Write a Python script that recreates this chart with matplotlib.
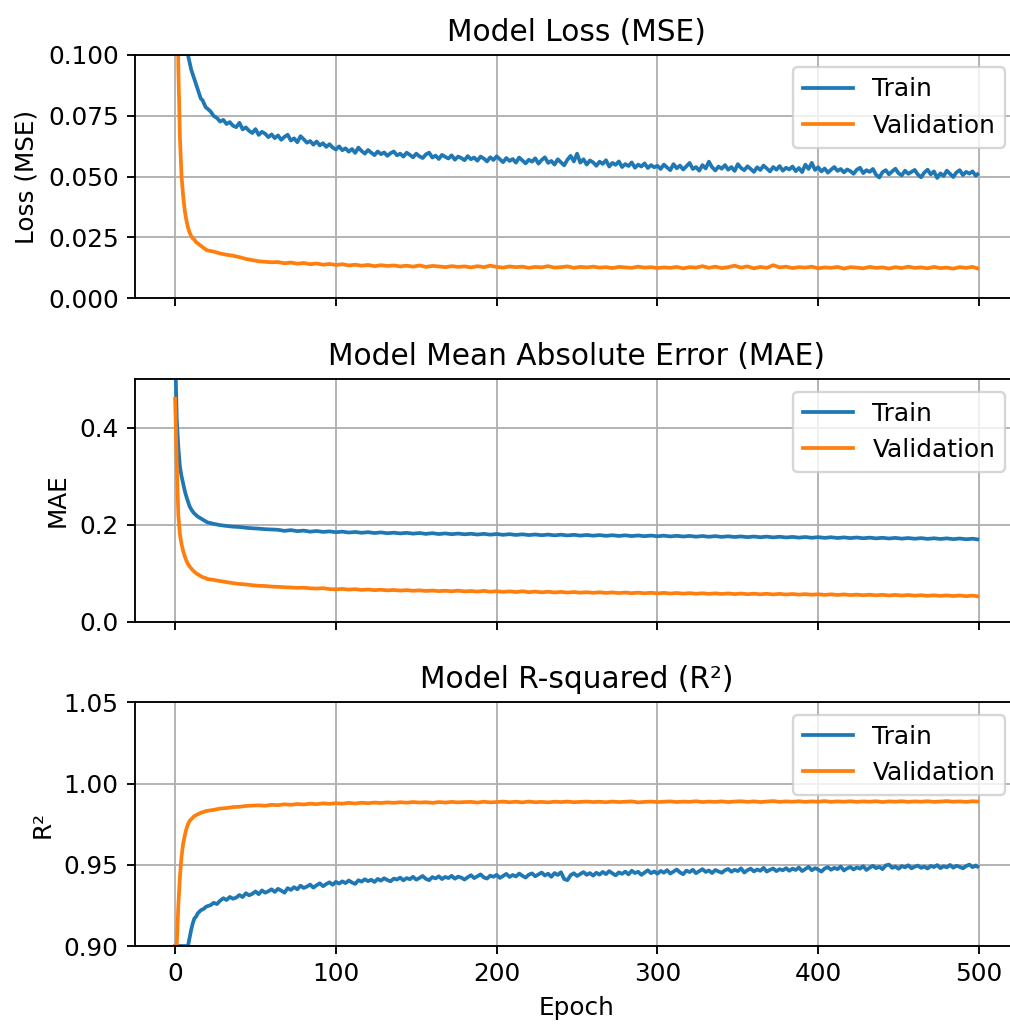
import matplotlib
matplotlib.use("Agg")
import matplotlib.pyplot as plt

# ---------------- data ----------------
# epochs sampled for most series
epochs = list(range(0, 21)) + list(range(24, 497, 4)) + [499]
# finer sampling for the noisier training curves
epochs_fine = list(range(0, 21)) + list(range(22, 499, 2)) + [499]

loss_train = [0.62, 0.35, 0.24, 0.18, 0.145, 0.125, 0.112, 0.105, 0.100, 0.097, 0.094, 0.092, 0.090, 0.088, 0.086, 0.084, 0.082, 0.0815, 0.080, 0.0785, 0.078,
    0.0768, 0.0749, 0.0741, 0.0726, 0.0733, 0.0716, 0.0724, 0.0709, 0.0703, 0.0721, 0.0694, 0.0702, 0.0688, 0.0679, 0.0695, 0.0671, 0.0684, 0.0676, 0.0662, 0.0673,
    0.0658, 0.0669, 0.0651, 0.0663, 0.0672, 0.0648, 0.0657, 0.0641, 0.0666, 0.0653, 0.0639, 0.0646, 0.0631, 0.0644, 0.0628, 0.0637, 0.0622, 0.0633, 0.0619, 0.0611,
    0.0624, 0.0608, 0.0616, 0.0602, 0.0613, 0.0597, 0.0619, 0.0605, 0.0594, 0.0609, 0.0598, 0.0588, 0.0603, 0.0592, 0.0599, 0.0585, 0.0596, 0.0603, 0.0587, 0.0594,
    0.0582, 0.0598, 0.0589, 0.0579, 0.0594, 0.0583, 0.0576, 0.0591, 0.0598, 0.0578, 0.0586, 0.0572, 0.0589, 0.0581, 0.0574, 0.0587, 0.0569, 0.0582, 0.0576, 0.0567,
    0.0584, 0.0571, 0.0578, 0.0565, 0.0582, 0.0574, 0.0562, 0.0579, 0.0568, 0.0583, 0.0571, 0.0559, 0.0576, 0.0564, 0.0572, 0.0557, 0.0578, 0.0566, 0.0554, 0.0569,
    0.0561, 0.0575, 0.0553, 0.0568, 0.0579, 0.0556, 0.0564, 0.0549, 0.0571, 0.0558, 0.0546, 0.0569, 0.0585, 0.0562, 0.0594, 0.0557, 0.0571, 0.0549, 0.0566, 0.0558,
    0.0544, 0.0561, 0.0552, 0.0567, 0.0541, 0.0556, 0.0548, 0.0562, 0.0539, 0.0551, 0.0543, 0.0558, 0.0536, 0.0549, 0.0541, 0.0554, 0.0535, 0.0547, 0.0538, 0.0544,
    0.0531, 0.0549, 0.0537, 0.0526, 0.0551, 0.0534, 0.0545, 0.0529, 0.0542, 0.0556, 0.0531, 0.0539, 0.0524, 0.0547, 0.0533, 0.0561, 0.0538, 0.0525, 0.0541, 0.0532,
    0.0547, 0.0528, 0.0539, 0.0523, 0.0551, 0.0535, 0.0526, 0.0542, 0.0531, 0.0519, 0.0538, 0.0527, 0.0545, 0.0533, 0.0521, 0.0539, 0.0528, 0.0543, 0.0524, 0.0536,
    0.0529, 0.0541, 0.0522, 0.0535, 0.0518, 0.0549, 0.0531, 0.0556, 0.0527, 0.0538, 0.0521, 0.0533, 0.0516, 0.0528, 0.0539, 0.0523, 0.0531, 0.0517, 0.0529, 0.0522,
    0.0511, 0.0528, 0.0536, 0.0514, 0.0526, 0.0519, 0.0531, 0.0507, 0.0496, 0.0518, 0.0526, 0.0509, 0.0521, 0.0532, 0.0513, 0.0505, 0.0524, 0.0511, 0.0519, 0.0527,
    0.0508, 0.0497, 0.0516, 0.0528, 0.0509, 0.0521, 0.0494, 0.0513, 0.0502, 0.0524, 0.0511, 0.0498, 0.0517, 0.0526, 0.0506, 0.0519, 0.0512, 0.0521, 0.0503, 0.0509]

loss_val = [0.30, 0.16, 0.095, 0.066, 0.050, 0.042, 0.036, 0.032, 0.029, 0.027, 0.0255, 0.0245, 0.024, 0.023, 0.0225, 0.022, 0.0215, 0.021, 0.0205, 0.0200, 0.0196,
    0.0191, 0.0183, 0.0178, 0.0174, 0.0168, 0.0161, 0.0156, 0.0151, 0.0149, 0.0147,
    0.0148, 0.0143, 0.0146, 0.0141, 0.0144, 0.0139, 0.0142, 0.0137, 0.0140, 0.0136,
    0.0139, 0.0134, 0.0137, 0.0133, 0.0136, 0.0131, 0.0135, 0.0132, 0.0134, 0.0130,
    0.0133, 0.0129, 0.0134, 0.0128, 0.0132, 0.0130, 0.0127, 0.0131, 0.0128, 0.0130,
    0.0126, 0.0131, 0.0127, 0.0133, 0.0128, 0.0125, 0.0130, 0.0127, 0.0129, 0.0124,
    0.0128, 0.0126, 0.0131, 0.0125, 0.0127, 0.0130, 0.0124, 0.0128, 0.0126, 0.0129,
    0.0125, 0.0127, 0.0123, 0.0128, 0.0126, 0.0124, 0.0129, 0.0125, 0.0127, 0.0123,
    0.0126, 0.0124, 0.0128, 0.0122, 0.0127, 0.0125, 0.0131, 0.0124, 0.0129, 0.0123,
    0.0127, 0.0133, 0.0125, 0.0130, 0.0122, 0.0128, 0.0124, 0.0135, 0.0126, 0.0129,
    0.0123, 0.0127, 0.0125, 0.0129, 0.0122, 0.0126, 0.0124, 0.0128, 0.0121, 0.0127,
    0.0125, 0.0122, 0.0128, 0.0124, 0.0126, 0.0121, 0.0127, 0.0123, 0.0129, 0.0124,
    0.0126, 0.0122, 0.0128, 0.0123, 0.0125, 0.0121, 0.0127, 0.0124, 0.0128, 0.0122]

mae_train = [0.56, 0.42, 0.36, 0.32, 0.30, 0.285, 0.27, 0.258, 0.248, 0.238, 0.232, 0.227, 0.223, 0.220, 0.217, 0.215, 0.213, 0.211, 0.209, 0.207, 0.205,
    0.2018, 0.1992, 0.1975, 0.1961, 0.1953, 0.1938, 0.1927, 0.1919, 0.1908, 0.1901,
    0.1896, 0.1874, 0.1889, 0.1868, 0.1879, 0.1857, 0.1871, 0.1852, 0.1863, 0.1846,
    0.1858, 0.1839, 0.1851, 0.1834, 0.1847, 0.1829, 0.1842, 0.1825, 0.1836, 0.1821,
    0.1833, 0.1816, 0.1829, 0.1811, 0.1826, 0.1808, 0.1821, 0.1805, 0.1818, 0.1803,
    0.1814, 0.1798, 0.1812, 0.1795, 0.1809, 0.1792, 0.1806, 0.1789, 0.1803, 0.1787,
    0.1799, 0.1784, 0.1797, 0.1781, 0.1795, 0.1779, 0.1792, 0.1776, 0.1789, 0.1774,
    0.1787, 0.1771, 0.1784, 0.1769, 0.1782, 0.1766, 0.1779, 0.1764, 0.1777, 0.1762,
    0.1775, 0.1759, 0.1772, 0.1757, 0.1769, 0.1754, 0.1767, 0.1752, 0.1765, 0.1749,
    0.1762, 0.1747, 0.1759, 0.1744, 0.1757, 0.1742, 0.1755, 0.1739, 0.1752, 0.1737,
    0.1749, 0.1734, 0.1747, 0.1731, 0.1744, 0.1729, 0.1742, 0.1726, 0.1739, 0.1724,
    0.1737, 0.1721, 0.1734, 0.1719, 0.1731, 0.1716, 0.1729, 0.1713, 0.1726, 0.1711,
    0.1724, 0.1708, 0.1721, 0.1706, 0.1719, 0.1703, 0.1716, 0.1701, 0.1712, 0.1698]

mae_val = [0.46, 0.33, 0.22, 0.18, 0.16, 0.146, 0.135, 0.126, 0.119, 0.114, 0.110, 0.106, 0.103, 0.100, 0.098, 0.096, 0.094, 0.092, 0.091, 0.090, 0.088,
    0.0862, 0.0838, 0.0817, 0.0795, 0.0779, 0.0768, 0.0752, 0.0741, 0.0736, 0.0724,
    0.0719, 0.0711, 0.0706, 0.0698, 0.0702, 0.0689, 0.0684, 0.0691, 0.0673, 0.0668,
    0.0676, 0.0662, 0.0671, 0.0655, 0.0664, 0.0651, 0.0659, 0.0646, 0.0654, 0.0642,
    0.0651, 0.0638, 0.0647, 0.0634, 0.0643, 0.0631, 0.0639, 0.0627, 0.0641, 0.0625,
    0.0633, 0.0621, 0.0637, 0.0618, 0.0629, 0.0615, 0.0626, 0.0612, 0.0628, 0.0609,
    0.0621, 0.0606, 0.0618, 0.0603, 0.0615, 0.0601, 0.0612, 0.0598, 0.0609, 0.0596,
    0.0607, 0.0593, 0.0604, 0.0591, 0.0602, 0.0588, 0.0599, 0.0586, 0.0597, 0.0584,
    0.0595, 0.0581, 0.0592, 0.0579, 0.0589, 0.0577, 0.0587, 0.0574, 0.0585, 0.0572,
    0.0583, 0.0569, 0.0581, 0.0567, 0.0578, 0.0565, 0.0576, 0.0562, 0.0574, 0.0561,
    0.0571, 0.0558, 0.0569, 0.0556, 0.0567, 0.0553, 0.0565, 0.0551, 0.0563, 0.0549,
    0.0559, 0.0546, 0.0557, 0.0544, 0.0555, 0.0541, 0.0553, 0.0539, 0.0551, 0.0537,
    0.0547, 0.0534, 0.0545, 0.0532, 0.0543, 0.0529, 0.0541, 0.0527, 0.0538, 0.0525]

r2_train = [0.90, 0.90, 0.90, 0.90, 0.90, 0.90, 0.90, 0.90, 0.90, 0.905, 0.910, 0.914, 0.917, 0.918, 0.920, 0.921, 0.922, 0.9225, 0.923, 0.924, 0.9245,
    0.9251, 0.9266, 0.9258, 0.9279, 0.9294, 0.9283, 0.9302, 0.9291, 0.9298, 0.9314, 0.9301, 0.9325, 0.9312, 0.9321, 0.9336, 0.9319, 0.9342, 0.9328, 0.9337, 0.9349,
    0.9333, 0.9352, 0.9341, 0.9328, 0.9356, 0.9345, 0.9362, 0.9349, 0.9371, 0.9357, 0.9366, 0.9378, 0.9359, 0.9374, 0.9386, 0.9368, 0.9381, 0.9392, 0.9377, 0.9395,
    0.9384, 0.9398, 0.9387, 0.9403, 0.9391, 0.9382, 0.9405, 0.9396, 0.9411, 0.9399, 0.9408, 0.9394, 0.9413, 0.9402, 0.9417, 0.9406, 0.9398, 0.9415, 0.9409, 0.9421,
    0.9404, 0.9418, 0.9411, 0.9426, 0.9408, 0.9419, 0.9431, 0.9413, 0.9405, 0.9424, 0.9416, 0.9429, 0.9412, 0.9425, 0.9418, 0.9432, 0.9414, 0.9427, 0.9421, 0.9409,
    0.9423, 0.9436, 0.9418, 0.9429, 0.9441, 0.9422, 0.9415, 0.9433, 0.9426, 0.9438, 0.9419, 0.9431, 0.9444, 0.9425, 0.9437, 0.9428, 0.9446, 0.9432, 0.9421, 0.9439,
    0.9447, 0.9429, 0.9441, 0.9452, 0.9434, 0.9445, 0.9426, 0.9449, 0.9437, 0.9454, 0.9412, 0.9405, 0.9436, 0.9448, 0.9431, 0.9443, 0.9455, 0.9438, 0.9449, 0.9433,
    0.9451, 0.9439, 0.9456, 0.9442, 0.9461, 0.9447, 0.9435, 0.9453, 0.9444, 0.9458, 0.9441, 0.9463, 0.9449, 0.9457, 0.9438, 0.9452, 0.9466, 0.9448, 0.9459, 0.9445,
    0.9462, 0.9451, 0.9467, 0.9446, 0.9458, 0.9471, 0.9453, 0.9442, 0.9464, 0.9455, 0.9469, 0.9448, 0.9461, 0.9473, 0.9456, 0.9465, 0.9449, 0.9468, 0.9459, 0.9451,
    0.9466, 0.9474, 0.9457, 0.9469, 0.9461, 0.9478, 0.9452, 0.9467, 0.9476, 0.9459, 0.9471, 0.9463, 0.9481, 0.9458, 0.9469, 0.9477, 0.9461, 0.9473, 0.9466, 0.9479,
    0.9463, 0.9476, 0.9468, 0.9483, 0.9461, 0.9474, 0.9487, 0.9466, 0.9479, 0.9471, 0.9458, 0.9477, 0.9485, 0.9469, 0.9481, 0.9473, 0.9489, 0.9465, 0.9478, 0.9486,
    0.9471, 0.9484, 0.9476, 0.9491, 0.9468, 0.9482, 0.9494, 0.9479, 0.9487, 0.9473, 0.9496, 0.9501, 0.9481, 0.9489, 0.9475, 0.9492, 0.9484, 0.9497, 0.9478, 0.9488,
    0.9495, 0.9481, 0.9489, 0.9477, 0.9493, 0.9486, 0.9498, 0.9479, 0.9491, 0.9484, 0.9499, 0.9482, 0.9494, 0.9487, 0.9478, 0.9492, 0.9501, 0.9485, 0.9496, 0.9489]

r2_val = [0.90, 0.90, 0.925, 0.943, 0.955, 0.963, 0.968, 0.972, 0.975, 0.977, 0.978, 0.979, 0.980, 0.9805, 0.981, 0.9815, 0.982, 0.9823, 0.9826, 0.983, 0.9832,
    0.9838, 0.9846, 0.9849, 0.9855, 0.9857, 0.9862, 0.9864, 0.9866, 0.9863, 0.9869,
    0.9867, 0.9872, 0.9869, 0.9874, 0.9871, 0.9876, 0.9873, 0.9878, 0.9875, 0.9879,
    0.9876, 0.9881, 0.9877, 0.9882, 0.9879, 0.9883, 0.9880, 0.9884, 0.9881, 0.9885,
    0.9882, 0.9886, 0.9883, 0.9885, 0.9881, 0.9886, 0.9883, 0.9887, 0.9884, 0.9886,
    0.9887, 0.9883, 0.9888, 0.9884, 0.9886, 0.9889, 0.9885, 0.9888, 0.9884, 0.9889,
    0.9885, 0.9887, 0.9884, 0.9888, 0.9886, 0.9889, 0.9885, 0.9887, 0.9889, 0.9886,
    0.9888, 0.9885, 0.9889, 0.9886, 0.9888, 0.9890, 0.9884, 0.9887, 0.9889, 0.9886,
    0.9888, 0.9890, 0.9886, 0.9889, 0.9887, 0.9891, 0.9886, 0.9889, 0.9887, 0.9890,
    0.9886, 0.9889, 0.9891, 0.9887, 0.9890, 0.9886, 0.9889, 0.9892, 0.9887, 0.9890,
    0.9888, 0.9891, 0.9887, 0.9890, 0.9888, 0.9892, 0.9887, 0.9890, 0.9888, 0.9891,
    0.9887, 0.9890, 0.9888, 0.9891, 0.9886, 0.9890, 0.9888, 0.9891, 0.9887, 0.9890,
    0.9888, 0.9891, 0.9887, 0.9889, 0.9892, 0.9888, 0.9890, 0.9887, 0.9891, 0.9889]

titles = ["Model Loss (MSE)", "Model Mean Absolute Error (MAE)", "Model R-squared (R²)"]
ylabels = ["Loss (MSE)", "MAE", "R²"]
series_labels = ["Train", "Validation"]
xticks = [0, 100, 200, 300, 400, 500]

# ---------------- figure ----------------
W, H = 1010, 1024
DPI = 168
fig = plt.figure(figsize=(W / DPI, H / DPI), dpi=DPI)

FS = 10.6
left = 135 / W
width = (1017.5 - 135) / W
panels = [(55, 298), (379.3, 621.7), (702.3, 946)]
axes = []
for top, bot in panels:
    ax = fig.add_axes([left, 1 - bot / H, width, (bot - top) / H],
                      sharex=axes[0] if axes else None)
    axes.append(ax)

data = [((epochs_fine, loss_train), (epochs, loss_val)),
        ((epochs, mae_train), (epochs, mae_val)),
        ((epochs_fine, r2_train), (epochs, r2_val))]
ylims = [(0.0, 0.1), (0.0, 0.5), (0.90, 1.05)]
yticks = [[0.0, 0.025, 0.05, 0.075, 0.1], [0.0, 0.2, 0.4], [0.90, 0.95, 1.00, 1.05]]
yfmt = ["{:.3f}", "{:.1f}", "{:.2f}"]

for i, ax in enumerate(axes):
    (xt, tr), (xv, va) = data[i]
    ax.plot(xt, tr, color="#1f77b4", lw=1.6, label=series_labels[0])
    ax.plot(xv, va, color="#ff7f0e", lw=1.6, label=series_labels[1])
    ax.set_title(titles[i], fontsize=FS * 1.2)
    ax.set_ylabel(ylabels[i], fontsize=FS)
    ax.set_ylim(*ylims[i])
    ax.set_yticks(yticks[i])
    ax.set_yticklabels([yfmt[i].format(v) for v in yticks[i]])
    ax.tick_params(labelsize=FS)
    ax.grid(True)
    ax.legend(loc="upper right", fontsize=FS)
    if i < 2:
        ax.tick_params(labelbottom=False)

axes[0].set_xlim(-24.95, 523.95)
axes[0].set_xticks(xticks)
axes[2].set_xlabel("Epoch", fontsize=FS)

fig.savefig("out.png", dpi=DPI)
